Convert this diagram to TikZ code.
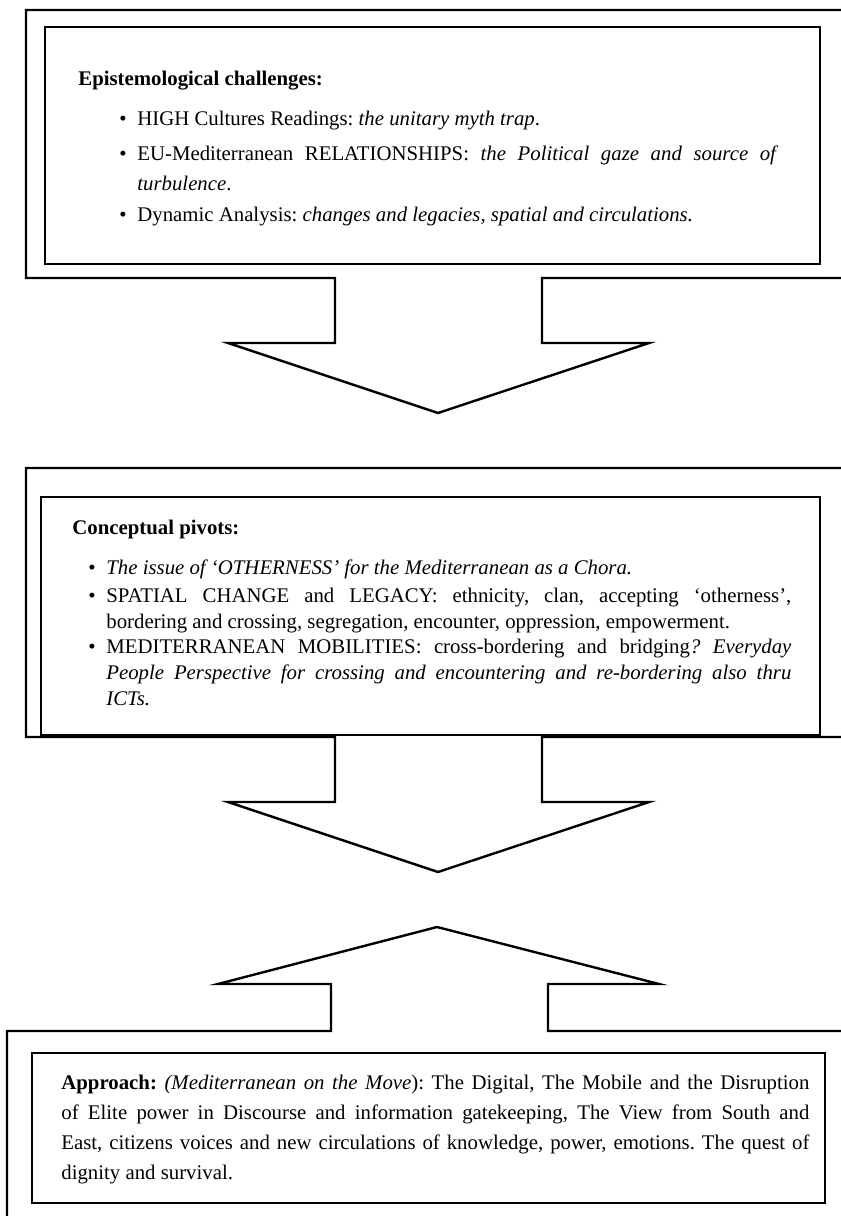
\documentclass[tikz,border=0pt]{standalone}
\usepackage{fontspec}
\setmainfont{Liberation Serif}

\frenchspacing
\hyphenpenalty=10000
\tolerance=9999
\newcommand{\pointitem}[1]{\hangindent=9pt\hangafter=1\makebox[9pt][l]{\textbullet}#1\par}

\begin{document}
\begin{tikzpicture}[x=0.5pt, y=-0.5pt,
    frame/.style={draw, line width=1.2pt, line join=miter},
    panel/.style={draw, line width=1pt},
    txt/.style={anchor=base west, inner sep=0pt, align=justify, font=\fontsize{10.4}{15}\selectfont},
    tighttxt/.style={txt, font=\fontsize{10.4}{13.2}\selectfont}]

  \useasboundingbox (0,0) rectangle (841,1216);
  \clip (0,0) rectangle (841,1216);

  % First panel and down arrow
  \draw[frame] (860,10) -- (26,10) -- (26,278) -- (335,278) -- (335,343) -- (228,343)
    -- (438,413) -- (649,343) -- (542,343) -- (542,278) -- (860,278);
  \draw[panel] (44.5,27) rectangle (820,264);

  % Second panel and down arrow
  \draw[frame] (860,468) -- (26,468) -- (26,737) -- (335,737) -- (335,802) -- (228,802)
    -- (438,872) -- (649,802) -- (542,802) -- (542,737) -- (860,737);
  \draw[panel] (41,497) rectangle (820,735);

  % Third panel with up arrow
  \draw[frame] (860,1031) -- (548,1031) -- (548,984) -- (659,984) -- (437,927)
    -- (218,984) -- (331,984) -- (331,1031) -- (7,1031) -- (7,1240);
  \draw[panel] (32,1053) rectangle (825,1203);

  \node[txt] (epihead) at (78,85) {\textbf{Epistemological challenges:}};
  \node[txt, text width=329.5pt] (epione) at (119,125)
    {\pointitem{HIGH Cultures Readings: \textit{the unitary myth trap}.}};
  \node[txt, text width=329.5pt] (epitwo) at (119,160)
    {\pointitem{EU-Mediterranean RELATIONSHIPS: \textit{the Political gaze and source of}\linebreak \textit{turbulence}.}};
  \node[txt, text width=329.5pt] (epithree) at (119,221)
    {\pointitem{Dynamic Analysis: \textit{changes and legacies, spatial and circulations.}}};

  \node[txt] (conhead) at (72,534) {\textbf{Conceptual pivots:}};
  \node[tighttxt, text width=351.5pt] (conone) at (88,574)
    {\pointitem{\textit{The issue of ‘OTHERNESS’ for the Mediterranean as a Chora.}}};
  \node[tighttxt, text width=351.5pt] (contwo) at (88,602)
    {\pointitem{SPATIAL CHANGE and LEGACY: ethnicity, clan, accepting ‘otherness’,\linebreak bordering and crossing, segregation, encounter, oppression, empowerment.}};
  \node[tighttxt, text width=351.5pt] (conthree) at (88,653)
    {\pointitem{MEDITERRANEAN MOBILITIES: cross-bordering and bridging\textit{? Everyday\linebreak People Perspective for crossing and encountering and re-bordering also thru\linebreak ICTs.}}};

  \node[txt, text width=374pt] (approach) at (61,1089)
    {\textbf{Approach:} \textit{(Mediterranean on the Move}): The Digital, The Mobile and the Disruption\linebreak of Elite power in Discourse and information gatekeeping, The View from South and\linebreak East, citizens voices and new circulations of knowledge, power, emotions. The quest of\linebreak dignity and survival.};

\end{tikzpicture}
\end{document}
